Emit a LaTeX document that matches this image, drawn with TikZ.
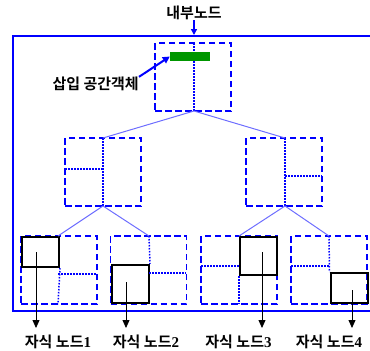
\documentclass[tikz,border=0pt]{standalone}
\usepackage{fontspec}
\newfontfamily\kr{Noto Sans CJK KR}[BoldFont={Noto Sans CJK KR Bold}]
\newfontfamily\numf{Liberation Serif}
\usetikzlibrary{arrows.meta,calc}
\definecolor{bblue}{RGB}{0,0,255}
\definecolor{lblue}{RGB}{110,110,255}
\definecolor{gbar}{RGB}{0,150,0}
\tikzset{
  dbox/.style={draw=bblue,line width=1.8pt,dash pattern=on 6.5pt off 3.5pt,minimum width=76pt,minimum height=68pt,inner sep=0pt,rectangle},
  bbox/.style={draw=black,line width=2pt,minimum width=37pt,inner sep=0pt,rectangle},
  dotl/.style={draw=bblue,line width=1.5pt,dash pattern=on 1.5pt off 1.5pt},
  conn/.style={draw=lblue,line width=1pt},
  darr/.style={draw=black,line width=0.8pt,-{Triangle[length=8pt,width=7pt]}},
  lab/.style={font=\kr\bfseries\fontsize{15}{15}\selectfont,inner sep=0pt},
  blab/.style={font=\kr\bfseries\fontsize{15}{15}\selectfont,inner sep=0pt},
}
\begin{document}
\begin{tikzpicture}[x=1pt,y=-1pt]
\useasboundingbox (0,0) rectangle (370,351);
% outer frame
\draw[bblue,line width=2pt] (371,35.5) -- (13,35.5) -- (13,310.5) -- (371,310.5);
% top label
\node[lab] (top) at (194,13) {내부노드};
\coordinate (topin) at (194,35);
\draw[bblue,line width=1.5pt,-{Triangle[length=6pt,width=6pt]}] (top.south) -- (topin);
% root
\node[dbox] (root) at (193,77) {};
\coordinate (rt) at (194,43);
\coordinate (rb) at (194,111);
\draw[dotl] (rt) -- (rb);
\node[fill=gbar,minimum width=40pt,minimum height=9pt,inner sep=0pt] (gb) at (190,56.5) {};
\node[lab,anchor=east] (ins) at (139,84) {삽입 공간객체};
\draw[bblue,line width=2pt,-{Triangle[length=7pt,width=7pt]}] (ins.north east) -- (gb.west);
% level 2
\node[dbox] (L) at (103,172) {};
\coordinate (Lt) at (103,138);
\coordinate (Lb) at (103,206);
\coordinate (Lh) at (65,169);
\draw[dotl] (Lt) -- (Lb);
\draw[dotl] (Lh) -- (103,169);
\node[dbox] (R) at (284,172) {};
\coordinate (Rt) at (285,138);
\coordinate (Rb) at (285,206);
\coordinate (Rh) at (322,176);
\draw[dotl] (Rt) -- (Rb);
\draw[dotl] (285,176) -- (Rh);
\draw[conn] (rb) -- (Lt);
\draw[conn] (rb) -- (Rt);
% leaves
\node[dbox] (l1) at (59,270) {};
\node[dbox] (l2) at (148.5,270) {};
\node[dbox] (l3) at (239,270) {};
\node[dbox] (l4) at (329,270) {};
\node[bbox,minimum height=30pt,anchor=north west] (b1) at (21,236) {};
\node[bbox,minimum height=38pt,anchor=south west] (b2) at (111,304) {};
\node[bbox,minimum height=38pt,anchor=north west] (b3) at (239,236) {};
\node[bbox,minimum height=30pt,anchor=south west] (b4) at (329.5,304) {};
\draw[dotl] (b1.south east) -- (58,304);
\draw[dotl] (58,274) -- (97,274);
\draw[dotl] (149,236) -- (b2.north east);
\draw[dotl] (149,273) -- (186,273);
\draw[dotl] (201,266) -- (239,266);
\draw[dotl] (b3.south west) -- (239,304);
\draw[dotl] (329,236) -- (b4.north west);
\draw[dotl] (291,266) -- (329,266);
\coordinate (t1) at (58,236);
\coordinate (t2) at (149,236);
\coordinate (t3) at (239,236);
\coordinate (t4) at (329,236);
\draw[conn] (Lb) -- (t1);
\draw[conn] (Lb) -- (t2);
\draw[conn] (Rb) -- (t3);
\draw[conn] (Rb) -- (t4);
% child arrows and labels
\node[blab] (c1) at (58,342) {자식 노드{\numf\bfseries 1}};
\node[blab] (c2) at (146,342) {자식 노드{\numf\bfseries 2}};
\node[blab] (c3) at (238.5,342) {자식 노드{\numf\bfseries 3}};
\node[blab] (c4) at (329,342) {자식 노드{\numf\bfseries 4}};
\coordinate (s1) at (36,252);
\coordinate (s2) at (126,282);
\coordinate (s3) at (262,252);
\coordinate (s4) at (352,290);
\coordinate (e1) at (36,328);
\coordinate (e2) at (126,328);
\coordinate (e3) at (262,328);
\coordinate (e4) at (352,328);
\draw[darr] (s1) -- (e1);
\draw[darr] (s2) -- (e2);
\draw[darr] (s3) -- (e3);
\draw[darr] (s4) -- (e4);
\end{tikzpicture}
\end{document}
